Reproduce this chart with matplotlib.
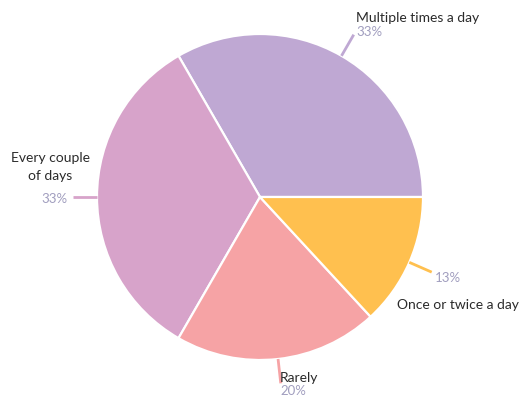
import numpy as np
import matplotlib.pyplot as plt

labels = ["Multiple times a day", "Every couple\nof days", "Rarely", "Once or twice a day"]
values = [33, 33, 20, 13]
colors = ["#BFA8D3", "#D7A3CA", "#F6A3A5", "#FFC04F"]

plt.rcParams['font.family'] = ['Lato', 'DejaVu Sans']

W, H = 526, 399
cx, cy, R = 260, 197, 163

fig = plt.figure(figsize=(W / 100, H / 100), dpi=100)
ax = fig.add_axes([(cx - R) / W, (H - cy - R) / H, 2 * R / W, 2 * R / H])

wedges, _ = ax.pie(values, colors=colors, startangle=0, counterclock=True, radius=1,
                   wedgeprops=dict(edgecolor='white', linewidth=1.6))
ax.set_xlim(-1, 1)
ax.set_ylim(-1, 1)
ax.axis('off')

def px(x, y):
    return ((x - cx) / R, (cy - y) / R)

# label text placement (pixel-ish), alignment
text_pos = [
    (356, 18, 'left'),
    (50, 167, 'center'),
    (280, 378, 'left'),
    (397, 305, 'left'),
]
pct_pos = [
    (356, 32, 'left'),
    (67, 199, 'right'),
    (280, 391, 'left'),
    (435, 278, 'left'),
]

for w, lab, val, c, tp, pp in zip(wedges, labels, values, colors, text_pos, pct_pos):
    mid = np.deg2rad((w.theta1 + w.theta2) / 2)
    x0, y0 = np.cos(mid), np.sin(mid)
    ax.plot([x0, x0 * 1.15], [y0, y0 * 1.15], color=c, lw=2, clip_on=False,
            solid_capstyle='butt')
    tx, ty = px(tp[0], tp[1])
    ax.text(tx, ty, lab, ha=tp[2], va='center', fontsize=10, color='#2b2b2b',
            multialignment='center', linespacing=1.6, clip_on=False)
    qx, qy = px(pp[0], pp[1])
    ax.text(qx, qy, f"{val}%", ha=pp[2], va='center', fontsize=9.5, color='#A19EBF',
            clip_on=False)

fig.savefig("out.png", dpi=100)
